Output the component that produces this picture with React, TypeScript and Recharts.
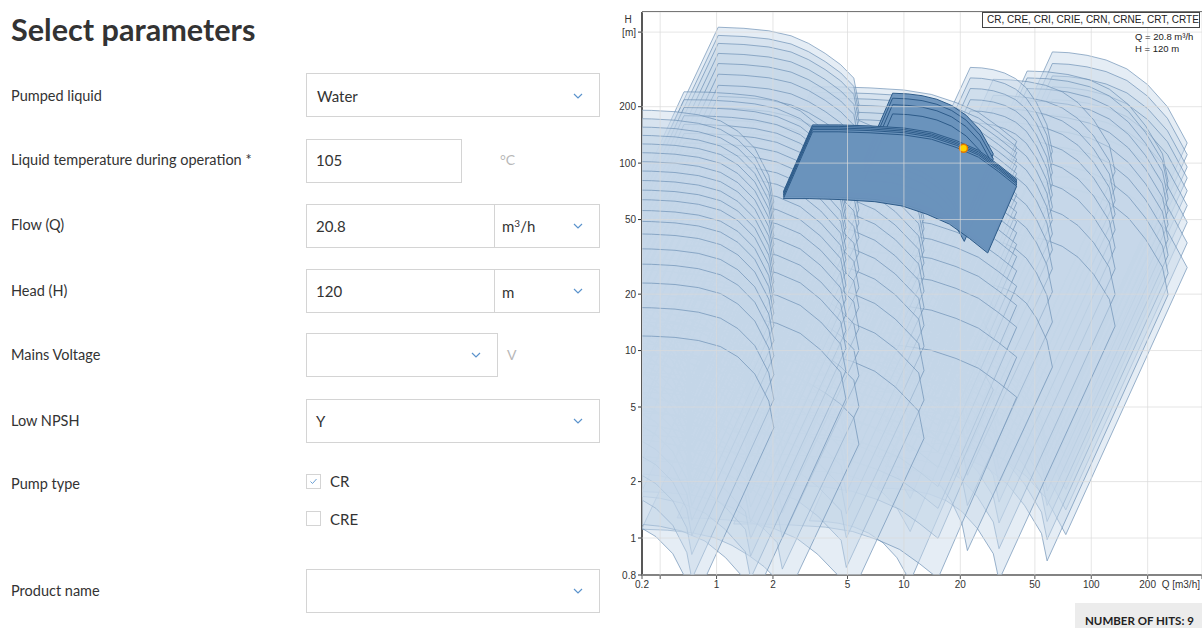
import React from 'react';
import { ScatterChart, Scatter, XAxis, YAxis, CartesianGrid } from 'recharts';

// ---------- axes ----------
const xTicks = [0.4, 0.5, 1, 2, 5, 10, 20, 50, 100, 200, 390];
const xTickLabels = ['0.2', '', '1', '2', '5', '10', '20', '50', '100', '200', 'Q [m3/h]'];
const yTicks = [0.635, 1, 2, 5, 10, 20, 50, 100, 200, 500];
const yTickLabels = ['0.8', '1', '2', '5', '10', '20', '50', '100', '200', '[m]'];

// ---------- pump families: top-stage curve (flow, head) + stage shut-off heads ----------
const cr1sFlow = [0.34, 0.45, 0.6, 0.8, 1.05, 1.3, 1.6, 1.9, 2.02];
const cr1sHead = [192, 191, 188, 181, 168, 148, 120, 86, 62];
const cr1sStages = [12, 17, 23, 29, 35, 42, 49, 56, 64, 72, 81, 91, 102, 114, 127, 141, 156, 173, 192];

const cr1Flow = [0.67, 0.9, 1.2, 1.6, 2.1, 2.8, 3.6, 4.6, 4.9];
const cr1Head = [240, 239, 235, 228, 215, 190, 155, 118, 85];
const cr1Stages = [15.6, 22, 29, 36, 44, 53, 63, 74, 86, 99, 113, 128, 144, 161, 179, 198, 218, 240];

const cr3Flow = [1.02, 1.4, 1.9, 2.5, 3.1, 3.8, 4.6, 5.4, 5.75];
const cr3Head = [531, 524, 508, 478, 435, 385, 335, 284, 205];
const cr3Stages = [8.2, 13, 19, 26, 34, 44, 56, 70, 86, 104, 124, 146, 170, 197, 227, 260, 298, 340, 385, 435, 480, 531];

const cr5Flow = [1.6, 2.2, 3, 4, 5.3, 7, 9, 12, 12.8];
const cr5Head = [200, 199, 195, 188, 175, 155, 128, 95, 68];
const cr5Stages = [10, 16, 23, 31, 40, 50, 61, 73, 86, 100, 115, 131, 148, 166, 184, 200];

const cr10Flow = [3.25, 4.5, 6.6, 10, 14, 19, 25, 32, 40];
const cr10Head = [160, 160, 158, 154, 146, 132, 117, 98, 82];
const cr10Stages = [11, 18, 26, 34, 43, 52, 62, 72, 83, 95, 107, 120, 133, 172, 188, 205, 222, 238, 255];
const cr10Selected = [147, 151, 154, 157, 160];

const cr15Flow = [8.7, 10.5, 12.5, 15, 18, 21.5, 25.5, 30];
const cr15Head = [236, 234, 229, 219, 203, 180, 150, 112];
const cr15Stages = [13, 24, 36, 49, 63, 78, 94, 111, 129, 147, 165];
const cr15Selected = [183, 205, 222, 236];

const cr32Flow = [22.6, 26, 30, 34.5, 39.5, 45, 51, 58, 62];
const cr32Head = [324, 322, 315, 302, 282, 252, 210, 160, 115];
const cr32Stages = [23, 40, 58, 77, 97, 118, 140, 164, 190, 218, 250, 285, 324];

const cr45Flow = [30, 37, 46, 57, 70, 85, 103, 125, 134];
const cr45Head = [280, 278, 272, 260, 240, 210, 170, 125, 90];
const cr45Stages = [42, 62, 85, 110, 137, 166, 196, 230, 280];

const cr64Flow = [45.5, 58, 75, 98, 125, 158, 195, 240, 257];
const cr64Head = [310, 307, 297, 278, 248, 205, 158, 112, 80];
const cr64Stages = [77, 100, 125, 152, 182, 215, 250, 285, 310];

const cr95Flow = [62, 76, 95, 120, 155, 200, 255, 325];
const cr95Head = [392, 388, 376, 355, 318, 262, 200, 128];
const cr95Stages = [85, 115, 148, 182, 218, 255, 292, 340, 392];

// minimum-speed factors (flow, head) per family, in draw order below
const minSpeedFlow = [0.225, 0.226, 0.24, 0.352, 0.36, 0.38, 0.385, 0.39, 0.31, 0.365];
const minSpeedHead = [0.0376, 0.038, 0.044, 0.105, 0.095, 0.108, 0.128, 0.136, 0.078, 0.11];
const selectedMinFlow = 0.7;
const selectedMinHead = 0.44;

const dutyFlow = 20.8;
const dutyHead = 120;

type Pt = { q: number; h: number };

function stagePolygons(flow: number[], head: number[], stages: number[], minQ: number, minH: number): Pt[] {
  const top = head[0];
  const pts: Pt[] = [];
  [...stages].sort((a, b) => b - a).forEach((s) => {
    const k = s / top;
    flow.forEach((q, i) => pts.push({ q, h: head[i] * k }));
    for (let i = flow.length - 1; i >= 0; i--) pts.push({ q: flow[i] * minQ, h: head[i] * k * minH });
  });
  return pts;
}

const lightFamilies = [
  { flow: cr95Flow, head: cr95Head, stages: cr95Stages },
  { flow: cr64Flow, head: cr64Head, stages: cr64Stages },
  { flow: cr45Flow, head: cr45Head, stages: cr45Stages },
  { flow: cr32Flow, head: cr32Head, stages: cr32Stages },
  { flow: cr15Flow, head: cr15Head, stages: cr15Stages },
  { flow: cr10Flow, head: cr10Head, stages: cr10Stages },
  { flow: cr5Flow, head: cr5Head, stages: cr5Stages },
  { flow: cr3Flow, head: cr3Head, stages: cr3Stages },
  { flow: cr1Flow, head: cr1Head, stages: cr1Stages },
  { flow: cr1sFlow, head: cr1sHead, stages: cr1sStages },
].map((f, i) => ({
  size: f.flow.length * 2,
  points: stagePolygons(f.flow, f.head, f.stages, minSpeedFlow[i], minSpeedHead[i]),
}));

const selectedFamilies = [
  { flow: cr15Flow, head: cr15Head, stages: cr15Selected },
  { flow: cr10Flow, head: cr10Head, stages: cr10Selected },
].map((f) => ({
  size: f.flow.length * 2,
  points: stagePolygons(f.flow, f.head, f.stages, selectedMinFlow, selectedMinHead),
}));

const dutyPoint = [{ q: dutyFlow, h: dutyHead }];

// ---------- renderers ----------
function polygonRenderer(size: number, fill: string, fillOpacity: number, stroke: string, strokeOpacity: number, strokeWidth: number) {
  return (props: any) => {
    const pts: { x: number; y: number }[] = props.points || [];
    const paths: React.ReactElement[] = [];
    for (let i = 0; i + size <= pts.length; i += size) {
      const d =
        pts
          .slice(i, i + size)
          .map((p, j) => `${j ? 'L' : 'M'}${p.x.toFixed(1)},${p.y.toFixed(1)}`)
          .join('') + 'Z';
      paths.push(
        <path
          key={i}
          d={d}
          fill={fill}
          fillOpacity={fillOpacity}
          stroke={stroke}
          strokeOpacity={strokeOpacity}
          strokeWidth={strokeWidth}
          strokeLinejoin="round"
        />
      );
    }
    return <g>{paths}</g>;
  };
}

const NoPoint = () => <g />;

const DutyDot = (p: any) => <circle cx={p.cx} cy={p.cy} r={4} fill="#ffd400" stroke="#e07800" strokeWidth={1.5} />;

const XTick = (props: any) => {
  const { x, y, payload } = props;
  const idx = xTicks.indexOf(payload.value);
  const label = idx >= 0 ? xTickLabels[idx] : '';
  const last = idx === xTicks.length - 1;
  return (
    <text x={last ? x - 2 : x} y={y} dy="0.71em" textAnchor={last ? 'end' : 'middle'} fontSize={10} fill="#333" fontFamily="'Liberation Sans', Arial, sans-serif">
      {label}
    </text>
  );
};

const YTick = (props: any) => {
  const { x, y, payload } = props;
  const idx = yTicks.indexOf(payload.value);
  const label = idx >= 0 ? yTickLabels[idx] : '';
  return (
    <g fontSize={10} fill="#333" fontFamily="'Liberation Sans', Arial, sans-serif">
      <text x={x} y={y} dy="0.355em" textAnchor="end">
        {label}
      </text>
      {idx === yTicks.length - 1 ? (
        <text x={x - 8} y={y - 13} dy="0.355em" textAnchor="middle">
          H
        </text>
      ) : null}
    </g>
  );
};

// ---------- form helpers ----------
const labelStyle: React.CSSProperties = {
  position: 'absolute',
  left: 11,
  height: 20,
  lineHeight: '20px',
  fontSize: 14.5,
  color: '#333',
  whiteSpace: 'nowrap',
};

const Box = ({ l, t, w, h, children }: { l: number; t: number; w: number; h: number; children?: React.ReactNode }) => (
  <div
    style={{
      position: 'absolute',
      left: l,
      top: t,
      width: w,
      height: h,
      boxSizing: 'border-box',
      border: '1px solid #d4d4d4',
      background: '#fff',
    }}
  >
    {children}
  </div>
);

const Txt = ({ l, y, children, color = '#333', size = 15 }: { l: number; y: number; children: React.ReactNode; color?: string; size?: number }) => (
  <div style={{ position: 'absolute', left: l, top: y - 11, height: 22, lineHeight: '22px', fontSize: size, color, whiteSpace: 'nowrap' }}>{children}</div>
);

const Chevron = ({ x, y }: { x: number; y: number }) => (
  <svg style={{ position: 'absolute', left: x - 5, top: y - 3 }} width={10} height={7}>
    <polyline points="1,1 5,5 9,1" fill="none" stroke="#5b93cc" strokeWidth={1.2} />
  </svg>
);

const rows = [
  { label: 'Pumped liquid', y: 96 },
  { label: 'Liquid temperature during operation *', y: 160 },
  { label: 'Flow (Q)', y: 225 },
  { label: 'Head (H)', y: 291 },
  { label: 'Mains Voltage', y: 355 },
  { label: 'Low NPSH', y: 421 },
  { label: 'Pump type', y: 484 },
  { label: 'Product name', y: 591 },
];

export default function App() {
  return (
    <div
      style={{
        position: 'absolute',
        left: 0,
        top: 0,
        width: 1202,
        height: 628,
        overflow: 'hidden',
        background: '#fff',
        fontFamily: "Lato, 'Open Sans', sans-serif",
      }}
    >
      {/* ---------- form ---------- */}
      <div style={{ position: 'absolute', left: 11, top: 10, fontSize: 30.6, fontWeight: 700, color: '#333', lineHeight: '40px' }}>Select parameters</div>
      {rows.map((r) => (
        <div key={r.label} style={{ ...labelStyle, top: r.y - 10 }}>
          {r.label}
        </div>
      ))}

      <Box l={306} t={73} w={294} h={44} />
      <Txt l={317} y={96}>Water</Txt>
      <Chevron x={578} y={96} />

      <Box l={306} t={139} w={156} h={44} />
      <Txt l={316} y={160}>105</Txt>
      <Txt l={500} y={160} color="#b8b8b8" size={14}>°C</Txt>

      <Box l={306} t={204} w={189} h={44} />
      <Box l={494} t={204} w={106} h={44} />
      <Txt l={316} y={226}>20.8</Txt>
      <Txt l={502} y={226}>
        m<sup style={{ fontSize: 10, verticalAlign: 'top', lineHeight: '16px' }}>3</sup>/h
      </Txt>
      <Chevron x={578} y={226} />

      <Box l={306} t={269} w={189} h={44} />
      <Box l={494} t={269} w={106} h={44} />
      <Txt l={316} y={291}>120</Txt>
      <Txt l={502} y={292}>m</Txt>
      <Chevron x={578} y={291} />

      <Box l={306} t={333} w={192} h={44} />
      <Chevron x={476} y={355} />
      <Txt l={507} y={355} color="#b8b8b8" size={14}>V</Txt>

      <Box l={306} t={399} w={294} h={44} />
      <Txt l={316} y={421}>Y</Txt>
      <Chevron x={578} y={421} />

      <Box l={306} t={474} w={15} h={15}>
        <svg width={13} height={13} style={{ position: 'absolute', left: 0, top: 0 }}>
          <polyline points="3.5,6.5 5.5,8.5 9.5,4" fill="none" stroke="#6a9fd4" strokeWidth={1} />
        </svg>
      </Box>
      <Txt l={330} y={481}>CR</Txt>
      <Box l={306} t={511} w={15} h={15} />
      <Txt l={330} y={519}>CRE</Txt>

      <Box l={306} t={569} w={294} h={44} />
      <Chevron x={578} y={591} />

      {/* ---------- chart ---------- */}
      <div style={{ position: 'absolute', left: 600, top: 0 }}>
        <ScatterChart width={602} height={628} margin={{ top: 12, right: 0, bottom: 33, left: 0 }}>
          <XAxis
            type="number"
            dataKey="q"
            scale="log"
            domain={[0.4, 390]}
            allowDataOverflow
            ticks={xTicks}
            interval={0}
            height={20}
            tick={<XTick />}
            tickSize={4}
            tickMargin={2}
            axisLine={{ stroke: '#555', strokeWidth: 2 }}
            tickLine={{ stroke: '#555' }}
          />
          <YAxis
            type="number"
            dataKey="h"
            scale="log"
            domain={[0.635, 640]}
            allowDataOverflow
            ticks={yTicks}
            interval={0}
            width={42}
            tick={<YTick />}
            tickSize={4}
            tickMargin={2}
            axisLine={{ stroke: '#111', strokeWidth: 2 }}
            tickLine={{ stroke: '#333' }}
          />
          {lightFamilies.map((f, i) => (
            <Scatter
              key={'l' + i}
              data={f.points}
              isAnimationActive={false}
              legendType="none"
              fill="#c5d7e8"
              shape={NoPoint}
              line={polygonRenderer(f.size, '#c5d7e8', 0.45, '#6a8db3', 0.75, 0.9)}
            />
          ))}
          {selectedFamilies.map((f, i) => (
            <Scatter
              key={'s' + i}
              data={f.points}
              isAnimationActive={false}
              legendType="none"
              fill="#6a93bc"
              shape={NoPoint}
              line={polygonRenderer(f.size, '#6a93bc', 0.92, '#2d5b89', 1, 1)}
            />
          ))}
          <CartesianGrid stroke="#dadada" strokeOpacity={0.7} zIndex={2000} />
          <Scatter data={dutyPoint} isAnimationActive={false} legendType="none" fill="#ffd400" shape={DutyDot} />
        </ScatterChart>
      </div>

      {/* frame top */}
      <div style={{ position: 'absolute', left: 642, top: 11, width: 560, height: 1, background: '#777' }} />

      {/* legend & duty text */}
      <div
        style={{
          position: 'absolute',
          left: 982,
          top: 12,
          width: 218,
          height: 16,
          boxSizing: 'border-box',
          border: '1px solid #444',
          background: '#fff',
          fontFamily: "'Liberation Sans', Arial, sans-serif",
          fontSize: 10,
          lineHeight: '14px',
          color: '#222',
          paddingLeft: 4,
          whiteSpace: 'nowrap',
        }}
      >
        CR, CRE, CRI, CRIE, CRN, CRNE, CRT, CRTE
      </div>
      <div style={{ position: 'absolute', left: 1135, top: 31, fontFamily: "'Liberation Sans', Arial, sans-serif", fontSize: 9.5, color: '#222', lineHeight: '12px', whiteSpace: 'nowrap' }}>
        Q = 20.8 m³/h
        <br />H = 120 m
      </div>

      {/* hits */}
      <div
        style={{
          position: 'absolute',
          left: 1075,
          top: 603,
          width: 127,
          height: 25,
          background: '#ececec',
          fontSize: 11.5,
          fontWeight: 700,
          color: '#222',
          lineHeight: '36px',
          paddingLeft: 10,
          boxSizing: 'border-box',
          whiteSpace: 'nowrap',
        }}
      >
        NUMBER OF HITS: 9
      </div>
    </div>
  );
}
